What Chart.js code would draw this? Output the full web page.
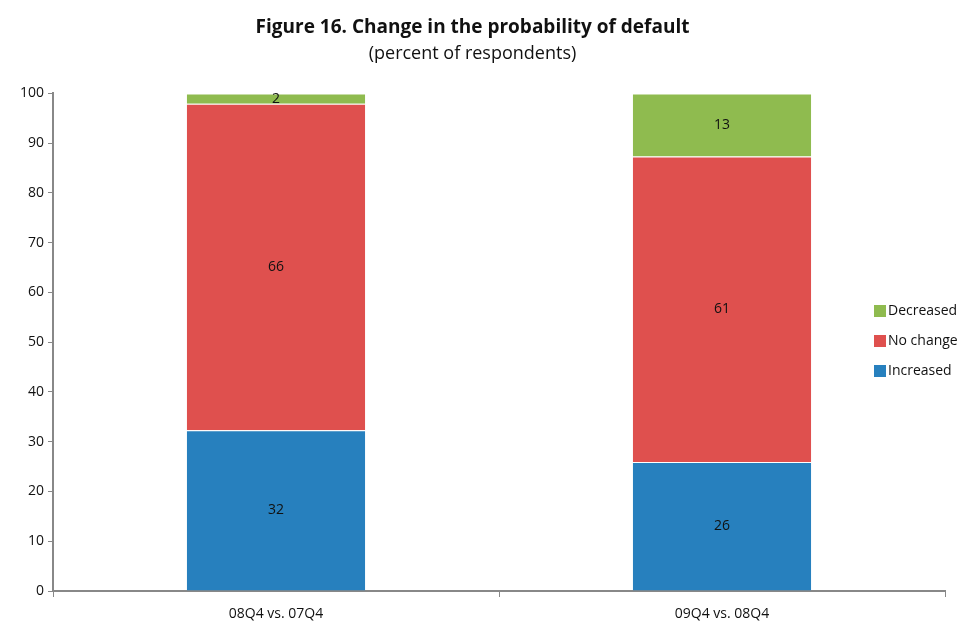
<!DOCTYPE html>
<html>
<head>
<meta charset="utf-8">
<script src="https://cdn.jsdelivr.net/npm/chart.js@4/dist/chart.umd.min.js"></script>
<style>
  html, body { margin: 0; padding: 0; background: #fff; }
  #wrap { width: 965px; height: 622px; }
</style>
</head>
<body>
<div id="wrap"><canvas id="myChart"></canvas></div>
<script>
const categories = ["08Q4 vs. 07Q4", "09Q4 vs. 08Q4"];
const increased = [32.3, 25.9];
const noChange = [65.6, 61.4];
const decreased = [2.1, 12.7];
const yTicks = [0, 10, 20, 30, 40, 50, 60, 70, 80, 90, 100];

const FONT = "'Open Sans', Lato, sans-serif";
const axisGray = "#888888";

// value labels in the middle of each segment
const segmentLabels = {
    id: "segmentLabels",
    afterDatasetsDraw(chart) {
        const ctx = chart.ctx;
        ctx.save();
        ctx.font = "14px " + FONT;
        ctx.fillStyle = "#111";
        ctx.textAlign = "center";
        ctx.textBaseline = "middle";
        chart.data.datasets.forEach((ds, i) => {
            chart.getDatasetMeta(i).data.forEach((bar, j) => {
                const mid = (bar.y + bar.base) / 2;
                ctx.fillText(Math.round(ds.data[j]), bar.x, mid);
            });
        });
        ctx.restore();
    }
};

// legend on the right, over the plot, in reversed order
const sideLegend = {
    id: "sideLegend",
    afterDraw(chart) {
        const ctx = chart.ctx;
        ctx.save();
        ctx.font = "14px " + FONT;
        ctx.textBaseline = "middle";
        ctx.textAlign = "left";
        const items = chart.data.datasets.slice().reverse();
        items.forEach((ds, k) => {
            const y = 311 + k * 30;
            ctx.fillStyle = ds.backgroundColor;
            ctx.fillRect(874, y - 6, 12, 12);
            ctx.fillStyle = "#111";
            ctx.fillText(ds.label, 888, y);
        });
        ctx.restore();
    }
};

new Chart(document.getElementById("myChart"), {
    type: "bar",
    data: {
        labels: categories,
        datasets: [
            { label: "Increased", data: increased, backgroundColor: "#2780BE" },
            { label: "No change", data: noChange, backgroundColor: "#DF504E" },
            { label: "Decreased", data: decreased, backgroundColor: "#8FBB4F" }
        ].map(d => Object.assign(d, {
            borderWidth: { top: 1 },
            borderColor: "rgba(255,255,255,0.6)",
            categoryPercentage: 1,
            barPercentage: 0.4
        }))
    },
    options: {
        responsive: true,
        maintainAspectRatio: false,
        animation: false,
        layout: { padding: { left: 0, right: 20, top: 9, bottom: 0 } },
        plugins: {
            legend: { display: false },
            tooltip: { enabled: false },
            title: {
                display: true,
                text: "Figure 16. Change in the probability of default",
                color: "#111",
                font: { family: FONT, size: 19, weight: "bold" },
                padding: { top: 7, bottom: 4 }
            },
            subtitle: {
                display: true,
                text: "(percent of respondents)",
                color: "#111",
                font: { family: FONT, size: 18 },
                padding: { top: 0, bottom: 29 }
            }
        },
        scales: {
            x: {
                stacked: true,
                grid: {
                    display: true,
                    offset: true,
                    drawOnChartArea: false,
                    tickLength: 6,
                    color: axisGray
                },
                border: { color: axisGray, width: 2 },
                ticks: { color: "#111", font: { family: FONT, size: 14 }, padding: 9 },
                afterFit(scale) { scale.height = 31; }
            },
            y: {
                stacked: true,
                min: 0,
                max: 100,
                afterBuildTicks(scale) { scale.ticks = yTicks.map(v => ({ value: v })); },
                grid: {
                    drawOnChartArea: false,
                    tickLength: 5,
                    color: axisGray
                },
                border: { color: axisGray, width: 2 },
                ticks: { color: "#111", font: { family: FONT, size: 14 }, padding: 4 },
                afterFit(scale) { scale.width = 53; }
            }
        }
    },
    plugins: [segmentLabels, sideLegend]
});
</script>
</body>
</html>
